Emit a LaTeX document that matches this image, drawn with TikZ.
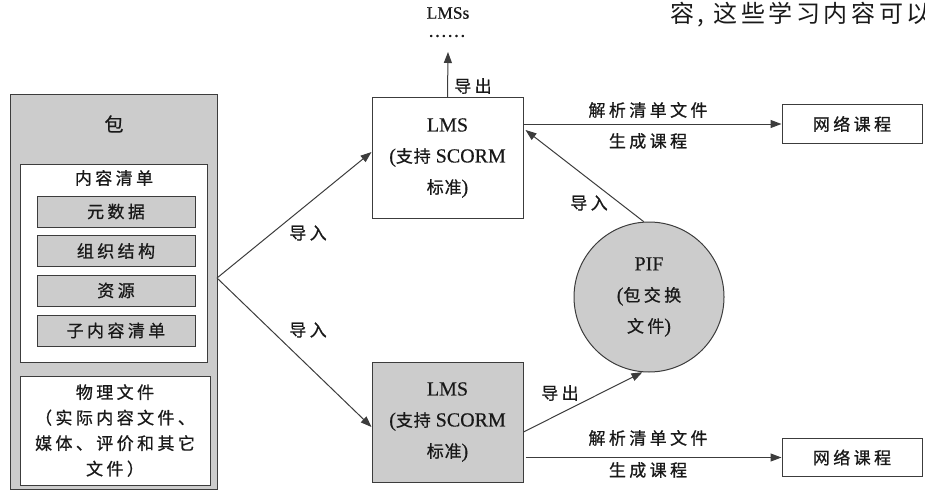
\documentclass[tikz,border=0pt]{standalone}
\usepackage{fontspec}
\setmainfont[FakeBold=0.4]{Liberation Serif}
\newfontfamily\cjk[LetterSpace=20,FakeBold=0.8]{Noto Sans CJK SC}
\newfontfamily\cjks[LetterSpace=5,FakeBold=0.8]{Noto Sans CJK SC}
\newfontfamily\cjkplain[LetterSpace=15]{Noto Sans CJK SC}
\newcommand{\zh}[1]{{\cjk #1}}
\newcommand{\zhs}[1]{{\cjks\fontsize{17}{31}\selectfont #1}}
\usetikzlibrary{arrows.meta,shapes.geometric}
\definecolor{boxgray}{RGB}{204,204,204}
\definecolor{linec}{RGB}{60,60,60}
\definecolor{textc}{RGB}{25,25,25}
\tikzset{
  base/.style={draw=linec, line width=1pt, text=textc, inner sep=0pt},
  graybox/.style={base, fill=boxgray},
  whitebox/.style={base, fill=white},
  lbl/.style={text=textc, inner sep=0pt, font=\fontsize{17}{20}\selectfont},
  arr/.style={draw=linec, line width=1pt, -{Triangle[length=11pt,width=8pt]}},
  three/.style={align=center, font=\fontsize{20}{31}\selectfont}
}
\begin{document}
\begin{tikzpicture}[x=1pt,y=-1pt]
\useasboundingbox (0,0) rectangle (925,492);
\begin{scope}
\clip (0,0) rectangle (925,492);
% stray page text
\node[anchor=west, inner sep=0pt, text=textc, font=\fontsize{24}{26}\selectfont] (pagetext) at (670,15) {\cjkplain 容, 这些学习内容可以};
% package
\node[graybox, minimum width=207pt, minimum height=394pt] (pkg) at (113.5,292) {};
\node[lbl, font=\fontsize{19}{20}\selectfont] (pkgt) at (114,124) {\zh{包}};
\node[whitebox, minimum width=187pt, minimum height=198pt] (mani) at (113.5,263) {};
\node[lbl] (manit) at (114,178) {\zh{内容清单}};
\node[graybox, lbl, draw=linec, line width=1pt, minimum width=158pt, minimum height=31pt] (meta) at (116,211.5) {\zh{元数据}};
\node[graybox, lbl, draw=linec, line width=1pt, minimum width=158pt, minimum height=31pt] (org) at (116,251) {\zh{组织结构}};
\node[graybox, lbl, draw=linec, line width=1pt, minimum width=158pt, minimum height=31pt] (res) at (116,290.5) {\zh{资源}};
\node[graybox, lbl, draw=linec, line width=1pt, minimum width=158pt, minimum height=31pt] (sub) at (116,330.5) {\zh{子内容清单}};
\node[whitebox, minimum width=190pt, minimum height=109pt, align=center, font=\fontsize{17}{25.5}\selectfont] (phys) at (115,430.5) {\zh{物理文件}\\\zh{（实际内容文件、}\\\zh{媒体、评价和其它}\\\zh{文件）}};
% LMS boxes
\node[whitebox, three, minimum width=151pt, minimum height=120pt] (lms1) at (447.5,158) {LMS\\(\zhs{支持} SCORM\\\zhs{标准})};
\node[graybox, three, minimum width=151pt, minimum height=120pt] (lms2) at (447.5,422) {LMS\\(\zhs{支持} SCORM\\\zhs{标准})};
% PIF
\node[graybox, circle, minimum size=150pt, three] (pif) at (649,297) {PIF\\(\zh{\fontsize{17}{31}\selectfont 包交换}\\\zh{\fontsize{17}{31}\selectfont 文件})};
% network courses
\node[whitebox, lbl, draw=linec, line width=1pt, minimum width=140pt, minimum height=38pt] (net1) at (852,124) {\zh{网络课程}};
\node[whitebox, lbl, draw=linec, line width=1pt, minimum width=140pt, minimum height=38pt] (net2) at (852,457.5) {\zh{网络课程}};
% LMSs
\node[inner sep=0pt, text=textc, font=\fontsize{17.5}{20}\selectfont] (lmss) at (448,13) {LMSs};
\node[inner sep=0pt, text=textc, font=\fontsize{19}{20}\selectfont] (dots) at (447,36) {……};
\coordinate (uptip) at (448,52);
\coordinate (br) at (217,278);
% connectors
\draw[arr] (br) -- ([yshift=6pt]lms1.west);
\draw[arr] (br) -- ([yshift=-5pt]lms2.west);
\draw[arr] (lms1.north) -- (uptip);
\draw[arr] (lms1.east |- net1.west) -- (net1.west);
\draw[arr] (pif.94) -- ([yshift=28pt,xshift=2pt]lms1.east);
\draw[arr] ([yshift=-10pt]lms2.east) -- (pif.265);
\draw[arr] ([xshift=2pt]lms2.east |- net2.west) -- (net2.west);
% labels
\node[lbl] (l1) at (308,233) {\zh{导入}};
\node[lbl] (l2) at (308,330) {\zh{导入}};
\node[lbl] (l3) at (473,86) {\zh{导出}};
\node[lbl] (l4) at (648,110) {\zh{解析清单文件}};
\node[lbl] (l5) at (648,141) {\zh{生成课程}};
\node[lbl] (l6) at (589,203) {\zh{导入}};
\node[lbl] (l7) at (560,393) {\zh{导出}};
\node[lbl] (l8) at (648,438) {\zh{解析清单文件}};
\node[lbl] (l9) at (648,470) {\zh{生成课程}};
\end{scope}
\end{tikzpicture}
\end{document}
